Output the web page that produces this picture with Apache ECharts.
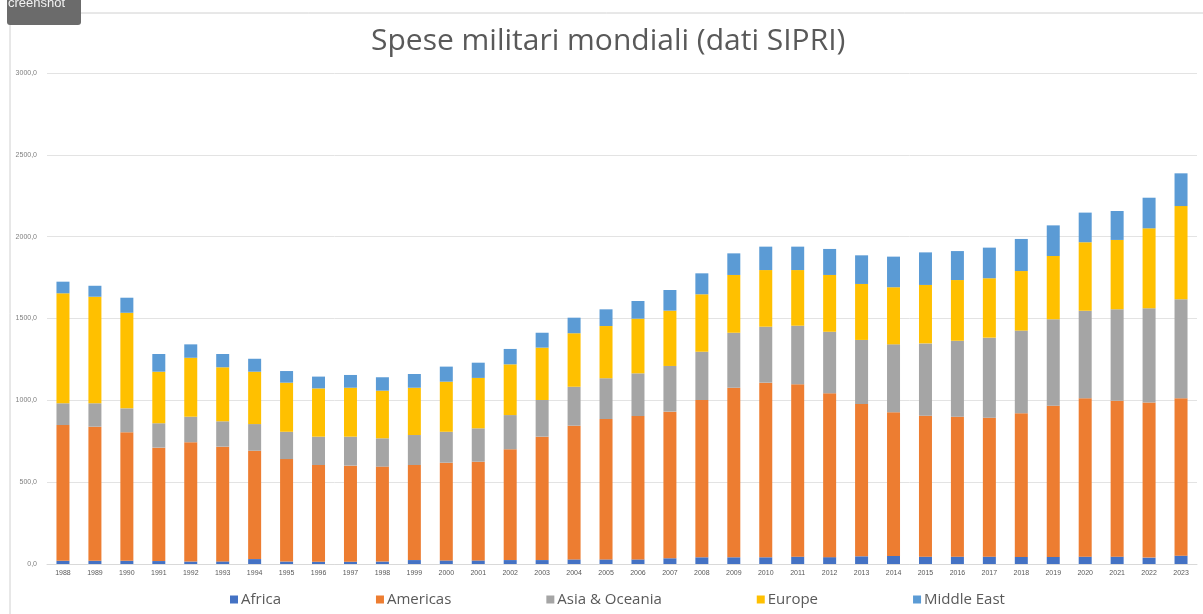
<!DOCTYPE html>
<html>
<head>
<meta charset="utf-8">
<script src="https://cdn.jsdelivr.net/npm/echarts@6/dist/echarts.min.js"></script>
<style>
  html, body { margin: 0; padding: 0; background: #fff; }
  #chart { width: 1203px; height: 614px; }
</style>
</head>
<body>
<div id="chart"></div>
<script>
// anni
const years = ['1988', '1989', '1990', '1991', '1992', '1993', '1994', '1995', '1996', '1997', '1998', '1999',
  '2000', '2001', '2002', '2003', '2004', '2005', '2006', '2007', '2008', '2009', '2010', '2011',
  '2012', '2013', '2014', '2015', '2016', '2017', '2018', '2019', '2020', '2021', '2022', '2023']

// spese per regione
const africa = [20, 20, 20, 18, 15, 16, 30, 15, 14, 14, 15, 24,
  22, 22, 24, 24, 28, 28, 28, 35, 41, 41, 41, 45,
  42, 47, 49, 45, 45, 45, 43, 43, 45, 45, 39, 51]
const americas = [829, 819, 785, 693, 729, 701, 662, 626, 591, 587, 580, 581,
  597, 603, 677, 754, 817, 858, 876, 896, 961, 1036, 1067, 1053,
  1001, 931, 878, 861, 855, 849, 878, 924, 967, 953, 947, 961]
const asiaOceania = [133, 143, 146, 149, 156, 155, 163, 167, 173, 177, 173, 183,
  189, 204, 209, 224, 238, 249, 261, 279, 295, 336, 342, 358,
  376, 391, 415, 442, 464, 489, 505, 528, 536, 558, 576, 605]
const europe = [672, 651, 584, 315, 360, 330, 320, 300, 295, 299, 291, 289,
  306, 308, 310, 320, 327, 319, 334, 338, 351, 353, 346, 340,
  347, 342, 349, 357, 371, 363, 364, 387, 418, 424, 489, 570]
const middleEast = [71, 67, 92, 108, 82, 81, 79, 71, 72, 78, 82, 84,
  92, 93, 94, 91, 95, 102, 108, 126, 128, 132, 143, 143,
  159, 175, 187, 199, 177, 187, 196, 187, 181, 177, 187, 200]

const yTicks = [0, 500, 1000, 1500, 2000, 2500, 3000]

const seriesList = [
  { name: 'Africa', data: africa, color: '#4472C4' },
  { name: 'Americas', data: americas, color: '#ED7D31' },
  { name: 'Asia & Oceania', data: asiaOceania, color: '#A5A5A5' },
  { name: 'Europe', data: europe, color: '#FFC000' },
  { name: 'Middle East', data: middleEast, color: '#5B9BD5' }
]

let myChart = echarts.init(document.getElementById('chart'))
let option = {
  animation: false,
  title: {
    text: 'Spese militari mondiali (dati SIPRI)',
    left: 366,
    top: 21,
    textStyle: {
      fontFamily: 'Open Sans',
      fontSize: 30,
      fontWeight: 'normal',
      color: '#595959'
    }
  },
  legend: {
    bottom: 2,
    left: 225,
    itemGap: 95,
    itemWidth: 8,
    itemHeight: 8,
    icon: 'rect',
    textStyle: {
      fontFamily: 'Open Sans',
      fontSize: 15,
      color: '#595959',
      padding: [0, 0, 0, -2]
    },
    data: seriesList.map(s => s.name)
  },
  grid: {
    left: 47,
    right: 6,
    top: 73,
    bottom: 50,
    containLabel: false
  },
  xAxis: {
    type: 'category',
    data: years,
    axisLine: { lineStyle: { color: '#d9d9d9' } },
    axisTick: { show: false },
    axisLabel: {
      fontFamily: 'Liberation Sans',
      fontSize: 7,
      color: '#595959',
      interval: 0,
      margin: 6
    }
  },
  yAxis: {
    type: 'value',
    min: 0,
    max: 3000,
    interval: 500,
    axisLine: { show: false },
    axisTick: { show: false },
    splitLine: { lineStyle: { color: '#e3e3e3' } },
    axisLabel: {
      fontFamily: 'Liberation Sans',
      fontSize: 7,
      color: '#7f7f7f',
      margin: 10,
      formatter: function (v) {
        return yTicks.indexOf(v) >= 0 ? v.toFixed(1).replace('.', ',') : ''
      }
    }
  },
  series: seriesList.map(s => ({
    name: s.name,
    type: 'bar',
    stack: 'total',
    barWidth: 13,
    data: s.data,
    itemStyle: { color: s.color }
  })),
  graphic: [
    // cornice dello screenshot
    {
      type: 'line',
      shape: { x1: 10, y1: 13, x2: 1203, y2: 13 },
      style: { stroke: '#d0d0d0', lineWidth: 1 }
    },
    {
      type: 'line',
      shape: { x1: 10, y1: 13, x2: 10, y2: 614 },
      style: { stroke: '#d0d0d0', lineWidth: 1 }
    },
    {
      type: 'rect',
      shape: { x: 7, y: -6, width: 74, height: 31, r: 3 },
      style: { fill: '#6b6b6b' }
    },
    {
      type: 'text',
      left: 8,
      top: -3,
      style: { text: 'creenshot', fill: '#f2f2f2', fontSize: 13, fontFamily: 'Liberation Sans' }
    }
  ]
}
myChart.setOption(option)
</script>
</body>
</html>
